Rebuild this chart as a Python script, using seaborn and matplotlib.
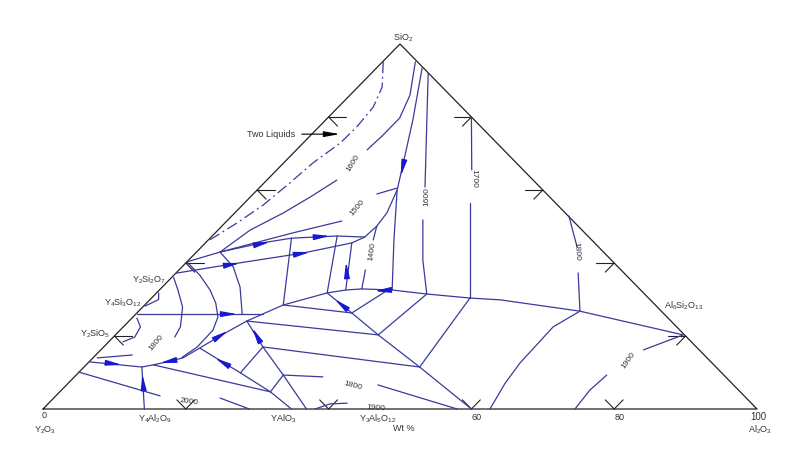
import numpy as np
import pandas as pd
import seaborn as sns
import matplotlib
matplotlib.use("Agg")
import matplotlib.pyplot as plt

# compositions are (wt% Al2O3, wt% SiO2); Y2O3 makes up the rest

# phase boundaries
steep_boundary = [(6.4, 93.4), (12.2, 79.2), (17.5, 65.5), (19.6, 60.0), (26.0, 46.3), (32.6, 32.6)]
junction_curve = [(19.6, 60.0), (21.3, 53.7), (21.7, 50.1), (21.5, 47.1)]
upper_boundary = [(0, 40.3), (3.3, 43.0), (7.9, 45.5), (11.4, 46.8), (17.5, 47.4), (21.5, 47.1)]
lower_boundary = [(0, 37.2), (6.6, 39.7), (15.0, 42.7), (20.5, 45.5), (21.5, 47.1)]
tie_a = [(11.4, 46.8), (19.4, 28.5)]
tie_b = [(17.5, 47.4), (23.9, 31.8)]
tie_c = [(20.5, 45.5), (26.1, 32.6)]
curve_c1 = [(0, 40.3), (3.6, 36.7), (7.1, 32.6), (9.7, 29.0), (11.9, 25.2), (13.0, 21.6), (13.1, 17.0), (12.4, 14.1)]
curve_c2 = [(3.3, 43.0), (7.2, 38.9), (10.9, 33.4), (14.9, 26.0)]
y4si3o12_line = [(0.2, 26.0), (17.8, 26.0)]
main_boundary = [(0.1, 12.9), (8.1, 11.5), (9.4, 12.1), (10.9, 12.9), (12.6, 14.0), (13.6, 16.7),
                 (14.9, 20.3), (16.5, 24.1), (19.4, 28.5), (23.9, 31.8), (26.1, 32.6), (28.2, 32.9),
                 (32.6, 32.6), (38.0, 31.5), (44.6, 30.4), (49.1, 29.9), (61.8, 26.8), (79.5, 20.3)]
y4al2o9_line = [(14.2, 0), (8.1, 11.5)]
y2sio5_short = [(0.6, 14.0), (5.1, 14.8)]
left_edge_line = [(0, 10.1), (14.6, 3.6)]
q1 = [(9.4, 12.1), (29.5, 4.7), (34.8, 0)]
q2 = [(13.6, 16.7), (22.7, 9.9), (29.5, 4.7)]
r1 = [(16.5, 24.1), (22.3, 17.0), (29.0, 9.3), (36.9, 0)]
link1 = [(22.7, 9.9), (22.3, 17.0)]
link2 = [(29.5, 4.7), (29.0, 9.3)]
r2 = [(16.5, 24.1), (36.8, 20.3)]
r3 = [(22.3, 17.0), (47.0, 11.5)]
r4 = [(19.4, 28.5), (30.1, 26.3)]
long_l = [(23.9, 31.8), (30.1, 26.3), (36.8, 20.3), (47.0, 11.5), (60.0, 0)]
s1 = [(30.1, 26.3), (32.0, 32.6)]
s2 = [(36.8, 20.3), (38.0, 31.5)]
s3 = [(47.0, 11.5), (44.6, 30.4)]
mullite_curve = [(62.6, 0), (61.2, 7.0), (60.5, 12.6), (60.2, 22.5), (61.8, 26.8)]
short_base = [(23.3, 3.0), (28.9, 0)]
arc_y4si3o12 = [(0.2, 28.2), (1.2, 30.0), (0.3, 31.8)]
arc_y2sio5 = [(0.7, 24.9), (2.4, 22.5), (3.0, 19.7), (2.0, 18.4)]

two_liquids = [(0.1, 95.1), (3.4, 88.2), (4.9, 82.7), (5.3, 77.3), (5.2, 72.9), (4.1, 67.4),
               (3.6, 61.9), (2.9, 55.9), (1.7, 51.0), (0.2, 46.3)]

# isotherms, split where the label sits
iso_1600_left_a = [(4.6, 95.1), (8.4, 86.0), (10.1, 79.7), (10.1, 74.8), (9.9, 71.0)]
iso_1600_left_b = [(9.8, 62.7), (8.4, 58.1), (6.8, 53.7), (4.5, 49.0), (3.3, 43.0)]
iso_1500_a = [(3.3, 43.0), (10.8, 48.2), (16.1, 51.5)]
iso_1500_b = [(17.3, 58.9), (19.3, 60.5)]
iso_1400_a = [(21.7, 50.1), (23.1, 46.3)]
iso_1400_b = [(26.1, 38.1), (28.2, 32.9)]
iso_1600_right_a = [(7.9, 92.1), (23.1, 60.8)]
iso_1600_right_b = [(27.3, 51.8), (32.8, 40.8), (38.0, 31.5)]
iso_1700_a = [(20.0, 80.0), (27.3, 65.5)]
iso_1700_b = [(31.6, 56.4), (44.6, 30.4)]
iso_1800_right_a = [(47.2, 52.9), (52.6, 44.4)]
iso_1800_right_b = [(56.3, 37.3), (61.8, 26.8)]
iso_1900_right_a = [(74.5, 0), (74.0, 5.2), (74.3, 9.3)]
iso_1900_right_b = [(76.0, 16.2), (79.5, 20.3)]
iso_1800_bottom_a = [(29.0, 9.3), (34.8, 8.8)]
iso_1800_bottom_b = [(43.6, 6.6), (58.0, 0)]
iso_1900_bottom = [(38.1, 0), (39.5, 1.4), (41.8, 1.6)]
iso_1800_left = [(0.3, 36.0), (2.6, 32.6), (5.6, 27.9), (8.0, 22.5), (8.6, 19.7)]

# crystallisation arrows (tail, head)
arrows = [((16.5, 68.2), (18.2, 63.8)), ((7.2, 44.9), (8.9, 45.8)), ((14.5, 47.1), (16.5, 47.4)),
          ((5.8, 39.3), (7.6, 40.0)), ((14.1, 42.3), (15.9, 43.0)), ((24.2, 36.7), (22.3, 40.3)),
          ((12.1, 26.0), (14.2, 26.0)), ((2.7, 12.6), (5.0, 12.1)), ((11.9, 13.4), (10.1, 12.6)),
          ((14.5, 19.2), (15.2, 21.4)), ((32.3, 32.6), (30.3, 32.3)), ((11.5, 5.2), (9.1, 9.6)),
          ((20.4, 11.6), (17.1, 14.0)), ((21.2, 18.4), (18.2, 22.2)), ((29.2, 27.1), (25.8, 30.1))]

# isotherm labels: text, (Al2O3, SiO2), rotation
iso_labels = [("1600", (9.7, 67.4), 58), ("1500", (16.5, 55.0), 50), ("1400", (24.5, 43.1), 82),
              ("1600", (24.6, 58.2), 90), ("1700", (28.7, 63.2), -90), ("1800", (53.2, 43.1), -86),
              ("1900", (75.3, 13.4), 55), ("1800", (40.3, 6.3), -14), ("1900", (46.4, 0.3), -4),
              ("2000", (19.5, 1.9), -8), ("1800", (6.9, 18.0), 50)]

tick_steps = [20, 40, 60, 80]

LINE = "#3a3a9c"
ARROW = "#1818d0"
TEXT = "#333333"


def tern(pts):
    a = np.array([p[0] for p in pts], dtype=float)
    s = np.array([p[1] for p in pts], dtype=float)
    return a + s / 2, s


def to_frame(lines):
    rows = []
    for name, pts in lines.items():
        x, y = tern(pts)
        for i in range(len(x)):
            rows.append((name, i, x[i], y[i]))
    return pd.DataFrame(rows, columns=["line", "order", "x", "y"])


sns.set_theme(style="white")
plt.rcParams["font.family"] = ["Liberation Sans", "DejaVu Sans"]
plt.rcParams["mathtext.fontset"] = "custom"
plt.rcParams["mathtext.rm"] = "Liberation Sans"
plt.rcParams["mathtext.it"] = "Liberation Sans"

fig = plt.figure(figsize=(8, 4.62), dpi=100)
ax = fig.add_axes([0, 0, 1, 1])
ax.set_xlim(-6.02, 106.02)
ax.set_ylim(-14.52, 112.05)
ax.axis("off")

# triangle frame
fx, fy = tern([(0, 0), (100, 0), (0, 100), (0, 0)])
ax.plot(fx, fy, color="#222222", lw=0.9)

# grid ticks on the three sides
t = 2.5
for k in tick_steps:
    for seg in ([(k, 0), (k - t, t)], [(k, 0), (k, t)],
                [(0, k), (t, k)], [(0, k), (t, k - t)],
                [(100 - k, k), (100 - k - t, k)], [(100 - k, k), (100 - k, k - t)]):
        sx, sy = tern(seg)
        ax.plot(sx, sy, color="#222222", lw=0.8)

boundaries = {
    "steep": steep_boundary, "junction": junction_curve, "upper": upper_boundary,
    "lower": lower_boundary, "tie_a": tie_a, "tie_b": tie_b, "tie_c": tie_c,
    "c1": curve_c1, "c2": curve_c2, "y4si3o12": y4si3o12_line, "main": main_boundary,
    "y4al2o9": y4al2o9_line, "y2sio5": y2sio5_short, "left": left_edge_line,
    "q1": q1, "q2": q2, "r1": r1, "link1": link1, "link2": link2, "r2": r2, "r3": r3,
    "r4": r4, "long": long_l, "s1": s1, "s2": s2, "s3": s3, "mullite": mullite_curve,
    "base": short_base, "arc1": arc_y4si3o12, "arc2": arc_y2sio5,
}
isotherms = {
    "1600la": iso_1600_left_a, "1600lb": iso_1600_left_b, "1500a": iso_1500_a,
    "1500b": iso_1500_b, "1400a": iso_1400_a, "1400b": iso_1400_b,
    "1600ra": iso_1600_right_a, "1600rb": iso_1600_right_b, "1700a": iso_1700_a,
    "1700b": iso_1700_b, "1800ra": iso_1800_right_a, "1800rb": iso_1800_right_b,
    "1900ra": iso_1900_right_a, "1900rb": iso_1900_right_b, "1800ba": iso_1800_bottom_a,
    "1800bb": iso_1800_bottom_b, "1900b": iso_1900_bottom, "1800l": iso_1800_left,
}

sns.lineplot(data=to_frame(boundaries), x="x", y="y", units="line", estimator=None,
             sort=False, color=LINE, lw=0.9, ax=ax, legend=False)
sns.lineplot(data=to_frame(isotherms), x="x", y="y", units="line", estimator=None,
             sort=False, color=LINE, lw=0.9, ax=ax, legend=False)

lx, ly = tern(two_liquids)
ax.plot(lx, ly, color=LINE, lw=0.9, linestyle=(0, (9, 3, 1.5, 3)))

for tail, head in arrows:
    (tx,), (ty,) = tern([tail])
    (hx,), (hy,) = tern([head])
    ax.annotate("", xy=(hx, hy), xytext=(tx, ty),
                arrowprops=dict(arrowstyle="-|>,head_length=0.95,head_width=0.17",
                                color=ARROW, lw=0.9, shrinkA=0, shrinkB=0, mutation_scale=10))

for txt, pos, rot in iso_labels:
    (px,), (py,) = tern([pos])
    ax.text(px, py, txt, fontsize=6, color=TEXT, rotation=rot,
            ha="center", va="center", rotation_mode="anchor")

# compound and axis labels (placed in the plot's x/y frame)
ax.text(50.5, 101.6, "SiO$_2$", fontsize=6.5, color=TEXT, ha="center", va="center")
ax.text(0.2, -1.9, "0", fontsize=6.5, color=TEXT, ha="center", va="center")
ax.text(0.3, -5.8, "Y$_2$O$_3$", fontsize=6.5, color=TEXT, ha="center", va="center")
ax.text(15.7, -2.8, "Y$_4$Al$_2$O$_9$", fontsize=6.5, color=TEXT, ha="center", va="center")
ax.text(33.7, -2.6, "YAlO$_3$", fontsize=6.5, color=TEXT, ha="center", va="center")
ax.text(46.9, -2.6, "Y$_3$Al$_5$O$_{12}$", fontsize=6.5, color=TEXT, ha="center", va="center")
ax.text(50.5, -5.3, "Wt %", fontsize=6.5, color=TEXT, ha="center", va="center")
ax.text(60.7, -2.4, "60", fontsize=6.5, color=TEXT, ha="center", va="center")
ax.text(80.7, -2.4, "80", fontsize=6.5, color=TEXT, ha="center", va="center")
ax.text(100.2, -2.1, "100", fontsize=7, color=TEXT, ha="center", va="center")
ax.text(100.4, -5.6, "Al$_2$O$_3$", fontsize=6.5, color=TEXT, ha="center", va="center")
ax.text(89.7, 28.2, "Al$_6$Si$_2$O$_{13}$", fontsize=6.5, color=TEXT, ha="center", va="center")
ax.text(14.8, 35.5, "Y$_2$Si$_2$O$_7$", fontsize=6.5, color=TEXT, ha="center", va="center")
ax.text(11.2, 29.1, "Y$_4$Si$_3$O$_{12}$", fontsize=6.5, color=TEXT, ha="center", va="center")
ax.text(7.3, 20.7, "Y$_2$SiO$_5$", fontsize=6.5, color=TEXT, ha="center", va="center")
ax.text(32.0, 75.3, "Two Liquids", fontsize=6.5, color=TEXT, ha="center", va="center")

# two-liquids pointer
(ax0,), (ay0,) = tern([(-1.4, 75.3)])
(ax1,), (ay1,) = tern([(3.9, 75.3)])
ax.annotate("", xy=(ax1, ay1), xytext=(ax0, ay0),
            arrowprops=dict(arrowstyle="-|>,head_length=0.95,head_width=0.17",
                            color="black", lw=0.8, shrinkA=0, shrinkB=0, mutation_scale=10))

fig.savefig("out.png", dpi=100)
